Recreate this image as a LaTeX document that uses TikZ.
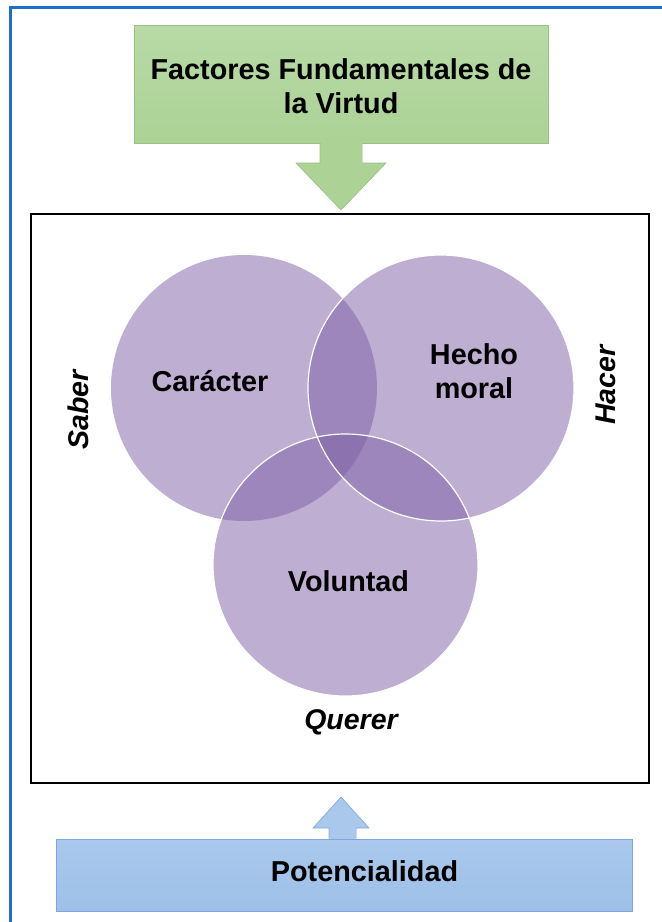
\documentclass[tikz,border=0pt]{standalone}
\usepackage{fontspec}
\setmainfont{Liberation Sans}
\definecolor{frameblue}{HTML}{1F6FC8}
\definecolor{gfill}{HTML}{ACD296}
\definecolor{gtop}{HTML}{B8DAA6}
\definecolor{gdraw}{HTML}{9CC083}
\definecolor{bfill}{HTML}{9EC0E8}
\definecolor{btop}{HTML}{A9C8EC}
\definecolor{bdraw}{HTML}{7FA6DA}
\definecolor{vpurple}{HTML}{7E5FA6}
\begin{document}
\begin{tikzpicture}[x=1pt,y=-1pt,
  titlebox/.style={draw=gdraw,top color=gtop,bottom color=gfill,line width=0.8pt},
  basebox/.style={draw=bdraw,top color=btop,bottom color=bfill,line width=0.8pt},
  circ/.style={fill=vpurple,fill opacity=0.5},
  lbl/.style={font=\bfseries\fontsize{28.8}{34}\selectfont,align=center,text=black},
  side/.style={font=\bfseries\itshape\fontsize{28.5}{34}\selectfont,text=black}]
\useasboundingbox (0,0) rectangle (662,922);
\fill[white] (0,0) rectangle (662,922);
% frame
\draw[frameblue,line width=3pt] (10.5,922) -- (10.5,7.5) -- (662,7.5);
% top box
\node[titlebox,minimum width=414pt,minimum height=118pt,anchor=north west,inner sep=0pt] (top) at (134,25) {};
\node[lbl] (toptext) at (341,86) {Factores Fundamentales de\\la Virtud};
% green arrow
\path[fill=gfill,draw=gdraw,line width=0.6pt] (320,143.5) -- (320,163) -- (296,163) -- (341,210) -- (386,163) -- (362,163) -- (362,143.5);
\fill[gfill] (320.5,142) rectangle (361.5,163.5);
% main box
\node[draw=black,line width=1.6pt,minimum width=618pt,minimum height=569pt,anchor=north west,inner sep=0pt] (main) at (30,213) {};
% circles
\path[circ] (244,388) circle (133);
\path[circ] (441,388) circle (133);
\path[circ] (345.5,565) ellipse (132.5 and 131);
\draw[white,line width=1.2pt] (441,388) circle (133);
\draw[white,line width=1.2pt] (345.5,565) ellipse (132.5 and 131);
\node[lbl] (car) at (210,381) {Carácter};
\node[lbl] (hecho) at (474,371) {Hecho\\moral};
\node[lbl] (vol) at (348.5,581) {Voluntad};
\node[side,rotate=90] (saber) at (78,410) {Saber};
\node[side,rotate=90] (hacer) at (606,385) {Hacer};
\node[side] (querer) at (351,722) {Querer};
% blue arrow
\path[fill=btop,draw=bdraw,line width=0.6pt] (329,838.5) -- (329,828) -- (313,828) -- (341,797) -- (369,828) -- (356,828) -- (356,838.5);
\fill[btop] (329.5,827) rectangle (355.5,840);
% bottom box
\node[basebox,minimum width=576pt,minimum height=72pt,anchor=north west,inner sep=0pt] (base) at (56,839) {};
\node[lbl] (pot) at (364.5,871) {Potencialidad};
\end{tikzpicture}
\end{document}
